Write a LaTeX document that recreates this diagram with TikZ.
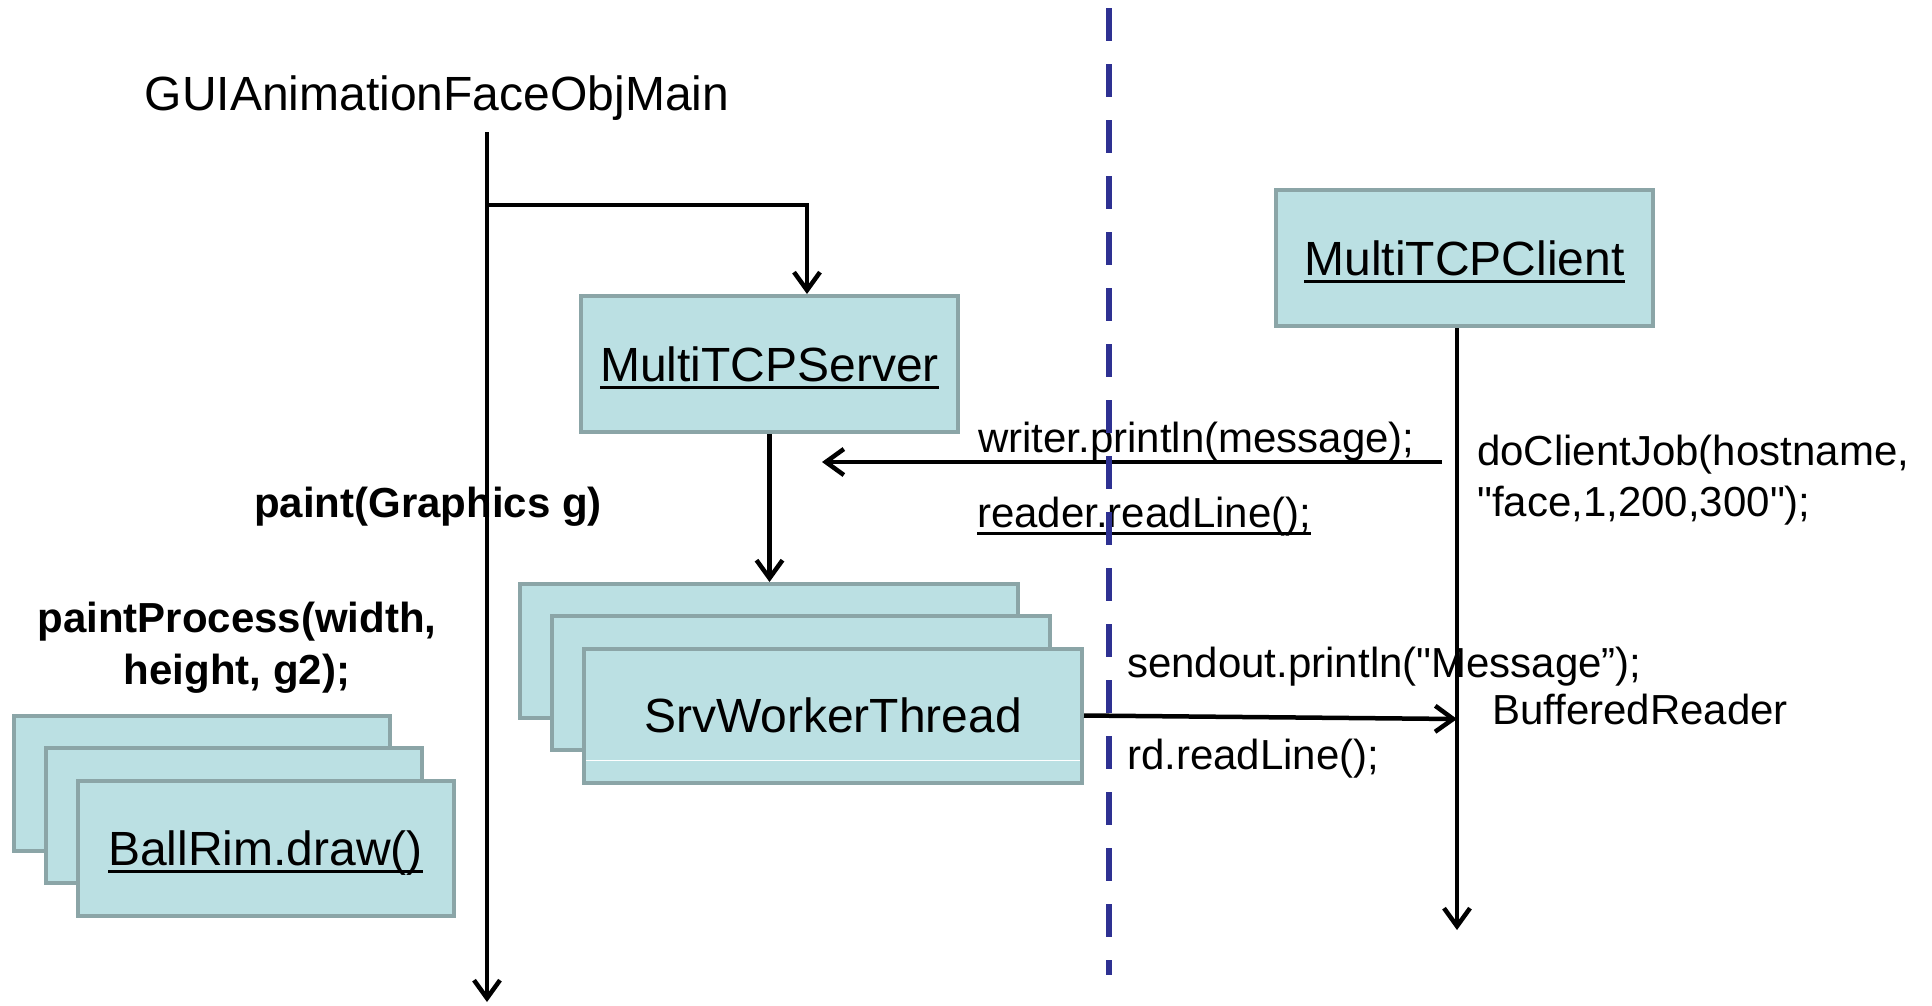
\documentclass[tikz,border=0pt]{standalone}
\usepackage{fontspec}
\usetikzlibrary{arrows.meta}
\newfontfamily\diagfont{Liberation Sans}
\newsavebox\namebox
\newcommand{\uname}[1]{\sbox\namebox{#1}\rlap{\smash{\vrule width\wd\namebox height -4.5pt depth 7.5pt}}\usebox\namebox}
\definecolor{boxfill}{RGB}{187,224,227}
\definecolor{boxline}{RGB}{139,165,167}
\definecolor{tiernavy}{RGB}{46,49,146}
\tikzset{
  objbox/.style={draw=boxline, fill=boxfill, line width=4pt, inner sep=0pt, text height=34pt, text depth=0pt, font=\diagfont\fontsize{48}{56}\selectfont},
  srvbox/.style={objbox, minimum width=377pt, minimum height=136pt},
  workbox/.style={objbox, minimum width=498pt, minimum height=134pt},
  ballbox/.style={objbox, minimum width=376pt, minimum height=135pt},
  msg/.style={inner sep=0pt, font=\diagfont\fontsize{42}{51}\selectfont},
  call/.style={inner sep=0pt, font=\diagfont\bfseries\fontsize{42}{52}\selectfont},
  life/.style={line width=4.5pt, -{Straight Barb[length=18pt,width=26pt]}},
  tier/.style={draw=tiernavy, line width=5.5pt, dash pattern=on 33pt off 23pt}
}

\begin{document}
\begin{tikzpicture}[x=1pt,y=-1pt]
  \useasboundingbox (0,0) rectangle (1932,1005);

  \node[msg, font=\diagfont\fontsize{48}{56}\selectfont, anchor=base] (main) at (437,110) {GUIAnimationFaceObjMain};
  \node[srvbox] (server) at (769.5,364) {\uname{MultiTCPServer}};
  \node[srvbox] (client) at (1464.5,258) {\uname{MultiTCPClient}};

  \node[workbox] (wback) at (769,651) {};
  \node[workbox] (wmid) at (800.5,683) {};
  \node[workbox] (worker) at (833,715.5) {SrvWorkerThread};
  \draw[white, line width=1pt] ([xshift=4pt,yshift=24pt]worker.south west) -- ([xshift=-4pt,yshift=24pt]worker.south east);

  \node[ballbox] (bback) at (202,783.5) {};
  \node[ballbox] (bmid) at (233.5,815.5) {};
  \node[ballbox] (ball) at (265.5,848) {\uname{BallRim.draw()}};

  \node[msg, anchor=base west] (writer) at (978,452) {writer.println(message);};
  \node[msg, anchor=base west] (reader) at (977,527) {\uname{reader.readLine();}};
  \node[call, anchor=base west] (paint) at (254,517) {paint(Graphics g)};
  \node[call, align=center, anchor=base] (process) at (237,684) {paintProcess(width,\\height, g2);};
  \node[msg, align=left, anchor=base west] (job) at (1477,516) {doClientJob(hostname,\\"face,1,200,300");};
  \node[msg, anchor=base west] (sendout) at (1127,677) {sendout.println("Message”);};
  \node[msg, anchor=base west] (buffered) at (1492,724) {BufferedReader};
  \node[msg, anchor=base west] (rdline) at (1127,769) {rd.readLine();};

  \coordinate (guitop) at (487,132);
  \coordinate (guiend) at (487,1002);
  \coordinate (branch) at (487,205);
  \coordinate (clientend) at (1457,930);
  \coordinate (writerstart) at (1442,462);
  \coordinate (writertip) at (822,462);
  \coordinate (buffertip) at (1457,719);
  \coordinate (tiertop) at (1109,8);
  \coordinate (tierend) at (1109,975);

  \draw[life] (guitop) -- (guiend);
  \draw[life] (branch) -| ([xshift=37.5pt]server.north);
  \draw[life] (server.south) -- (server.south |- wback.north);
  \draw[life] (writerstart) -- (writertip);
  \draw[life] (client.south -| clientend) -- (clientend);
  \draw[life] (worker.east) -- (buffertip);
  \draw[tier] (tiertop) -- (tierend);
\end{tikzpicture}
\end{document}
